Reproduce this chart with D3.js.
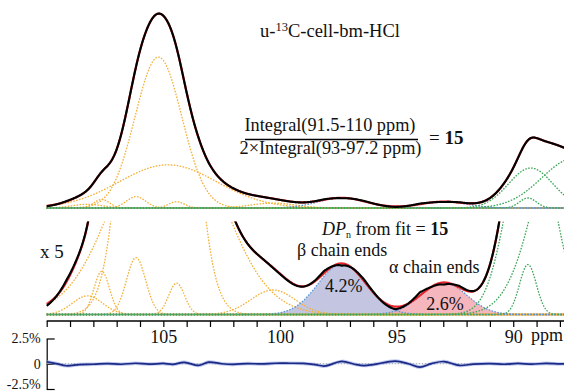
<!DOCTYPE html>
<html><head><meta charset="utf-8">
<script src="https://cdn.jsdelivr.net/npm/d3@7"></script>
<style>
body{margin:0;background:#fff}
svg{display:block}
text{font-family:"Liberation Serif","Times New Roman",serif;fill:#111}
</style>
</head><body>
<svg id="c" width="564" height="392"></svg>
<script>
// ---------- data (ppm, intensity in % of the main peak) ----------
const axisTicks = [110,109,108,107,106,105,104,103,102,101,100,99,98,97,96,95,94,93,92,91,90,89,88];
const axisLabels = [105,100,95,90];

// cellulose C1 components (orange)
const orangeCenter = [105.21, 104.80, 107.64, 106.17, 104.43, 100.30, 108.25];
const orangeHeight = [77.0, 22.0, 4.4, 5.8, 3.2, 2.5, 1.9];
const orangeSigma  = [1.00, 2.10, 0.33, 0.41, 0.34, 0.95, 0.65];

// reducing chain ends (blue outline, filled)
const endLabel  = ["β chain ends", "α chain ends"];
const endCenter = [97.34, 92.98];
const endHeight = [5.15, 3.25];
const endSigma  = [1.03, 0.99];
const endPct    = ["4.2%", "2.6%"];
const endFill   = ["#b9bbdc", "#f5a9b1"];

// C4 region components (green)
const greenCenter = [89.25, 87.36, 89.37];
const greenHeight = [20.4, 25.5, 5.1];
const greenSigma  = [0.95, 1.41, 0.36];

// residual of the fit (% of main peak)
const residPpm = [110.0,109.6,109.15,108.6,108.0,107.4,106.8,106.2,105.6,105.0,104.6,104.1,103.5,103.05,102.5,102.0,101.4,100.8,100.2,99.6,99.0,98.5,98.1,97.35,96.8,96.4,96.0,95.05,94.5,94.0,93.5,92.97,92.3,91.7,91.0,90.4,89.8,89.2,88.6,88.0,87.8];
const residVal = [0.20,0.02,-0.20,-0.08,-0.05,0.02,-0.05,0.05,-0.04,0.03,-0.06,0.14,-0.17,0.16,0.0,-0.06,0.02,-0.02,0.05,0.05,0.03,-0.08,-0.23,0.23,-0.05,-0.18,-0.08,0.26,0.0,-0.33,0.02,0.22,-0.17,-0.03,0.02,-0.05,0.03,-0.04,0.04,-0.02,0.0];

// ---------- scales ----------
const svg = d3.select("#c");
const x = d3.scaleLinear().domain([110, 88]).range([46.7, 559.9]);
const yTop = d3.scaleLinear().domain([0, 100]).range([208, 12]);
const yMid = d3.scaleLinear().domain([0, 20]).range([314.5, 118.5]);
const yRes = d3.scaleLinear().domain([-2.5, 2.5]).range([389, 338.5]);
const grid = d3.range(110, 87.78, -0.02);

const gauss = (c, h, s) => p => h * Math.exp(-((p - c) ** 2) / (2 * s * s));
const comps = [];
orangeCenter.forEach((c, i) => comps.push({col: "#f4b13a", f: gauss(c, orangeHeight[i], orangeSigma[i])}));
endCenter.forEach((c, i) => comps.push({col: "#5b97d8", f: gauss(c, endHeight[i], endSigma[i]), fill: endFill[i]}));
greenCenter.forEach((c, i) => comps.push({col: "#3ba757", f: gauss(c, greenHeight[i], greenSigma[i])}));
const fit = p => d3.sum(comps, c => c.f(p));
const resid = d3.scaleLinear().domain(residPpm).range(residVal);
const expt = p => fit(p) - resid(p);

const defs = svg.append("defs");
defs.append("clipPath").attr("id", "cTop").append("rect").attr("x", 46).attr("y", 0).attr("width", 518).attr("height", 213);
defs.append("clipPath").attr("id", "cMid").append("rect").attr("x", 46).attr("y", 221.5).attr("width", 518).attr("height", 97);

function panel(y, clip, withFill) {
  const g = svg.append("g").attr("clip-path", `url(#${clip})`);
  const line = f => d3.line().x(p => x(p)).y(p => y(f(p)))(grid);
  g.append("line").attr("x1", x(109.75)).attr("x2", 564).attr("y1", y(0)).attr("y2", y(0))
    .attr("stroke", "#9aa0a8").attr("stroke-width", 1.3).attr("stroke-dasharray", "1.5 1.5");
  if (withFill) {
    comps.filter(c => c.fill).forEach(c => {
      g.append("path").attr("d", d3.area().x(p => x(p)).y0(y(0)).y1(p => y(c.f(p)))(grid))
        .attr("fill", c.fill).attr("fill-opacity", 0.85);
    });
  }
  comps.forEach(c => {
    g.append("path").attr("d", line(c.f)).attr("fill", "none").attr("stroke", c.col)
      .attr("stroke-width", 1.3).attr("stroke-dasharray", "1.6 1.4");
  });
  g.append("path").attr("d", line(fit)).attr("fill", "none").attr("stroke", "#e4252b").attr("stroke-width", 2.2);
  g.append("path").attr("d", line(expt)).attr("fill", "none").attr("stroke", "#000").attr("stroke-width", 2.1);
}
panel(yTop, "cTop", false);
panel(yMid, "cMid", true);

// ---------- ppm axis ----------
const axY = 321;
const ax = svg.append("g").attr("transform", `translate(0,${axY})`)
  .call(d3.axisBottom(x).tickValues(axisTicks).tickSize(6).tickSizeOuter(0)
    .tickFormat(d => axisLabels.includes(d) ? d : ""));
ax.select(".domain").remove();
ax.append("line").attr("x1", x(110)).attr("x2", 564).attr("y1", 0).attr("y2", 0).attr("stroke", "#000").attr("stroke-width", 1.3);
ax.selectAll(".tick line").attr("stroke", "#000").attr("stroke-width", 1.2);
ax.selectAll(".tick text").attr("font-family", "Liberation Serif, serif").attr("font-size", 18).attr("fill", "#111");
svg.append("text").attr("x", 531).attr("y", 341).attr("font-size", 18).text("ppm");

// ---------- residual panel ----------
const rax = svg.append("g").attr("transform", `translate(${x(110)},0)`)
  .call(d3.axisLeft(yRes).tickValues([2.5, 0, -2.5]).tickSize(-8).tickSizeOuter(0).tickPadding(6)
    .tickFormat(d => d === 0 ? "0" : d + "%"));
rax.select(".domain").attr("stroke", "#000").attr("stroke-width", 1.2);
rax.selectAll(".tick line").attr("stroke", "#000").attr("stroke-width", 1.2);
rax.selectAll(".tick text").attr("font-family", "Liberation Serif, serif").attr("font-size", 14).attr("fill", "#111")
  .attr("dy", d => d < 0 ? "-0.05em" : "0.32em");
svg.append("line").attr("x1", x(110)).attr("x2", 564).attr("y1", yRes(0)).attr("y2", yRes(0))
  .attr("stroke", "#9aa0a8").attr("stroke-width", 1.2).attr("stroke-dasharray", "1.5 1.5");
const rl = d3.line().x((d, i) => x(residPpm[i])).y(d => yRes(d)).curve(d3.curveCatmullRom);
svg.append("path").attr("d", rl(residVal)).attr("fill", "none").attr("stroke", "#8d9de0").attr("stroke-width", 3.6).attr("stroke-opacity", 0.55);
svg.append("path").attr("d", rl(residVal)).attr("fill", "none").attr("stroke", "#1b2a86").attr("stroke-width", 1.7);

// ---------- texts ----------
const t = svg.append("text").attr("x", 260).attr("y", 37).attr("font-size", 18.5);
t.append("tspan").text("u-");
t.append("tspan").attr("font-size", 12.5).attr("dy", -6).text("13");
t.append("tspan").attr("dy", 6).text("C-cell-bm-HCl");

svg.append("text").attr("x", 330).attr("y", 131).attr("text-anchor", "middle").attr("font-size", 18.3).text("Integral(91.5-110 ppm)");
svg.append("line").attr("x1", 245).attr("x2", 418).attr("y1", 139.5).attr("y2", 139.5).attr("stroke", "#000").attr("stroke-width", 1.3);
svg.append("text").attr("x", 330.5).attr("y", 154).attr("text-anchor", "middle").attr("font-size", 18.3).text("2×Integral(93-97.2 ppm)");
const eq = svg.append("text").attr("x", 429).attr("y", 143.5).attr("font-size", 19);
eq.append("tspan").text("= ");
eq.append("tspan").attr("font-weight", "bold").text("15");

svg.append("text").attr("x", 40).attr("y", 258).attr("font-family", "Liberation Sans, Arial, sans-serif").attr("font-size", 19).text("x 5");

const dp = svg.append("text").attr("x", 322).attr("y", 234.5).attr("font-size", 18);
dp.append("tspan").attr("font-style", "italic").text("DP");
dp.append("tspan").attr("font-size", 10).attr("dy", 3).text("n");
dp.append("tspan").attr("dy", -3).text(" from fit = ");
dp.append("tspan").attr("font-weight", "bold").text("15");

const endLabelPos = [[297, 255.5], [389, 272.5]];
const endPctPos = [[343.7, 291.5], [445, 310]];
endLabel.forEach((s, i) => {
  svg.append("text").attr("x", endLabelPos[i][0]).attr("y", endLabelPos[i][1]).attr("font-size", 18).text(s);
  svg.append("text").attr("x", endPctPos[i][0]).attr("y", endPctPos[i][1]).attr("text-anchor", "middle").attr("font-size", 18).text(endPct[i]);
});
</script>
</body></html>
